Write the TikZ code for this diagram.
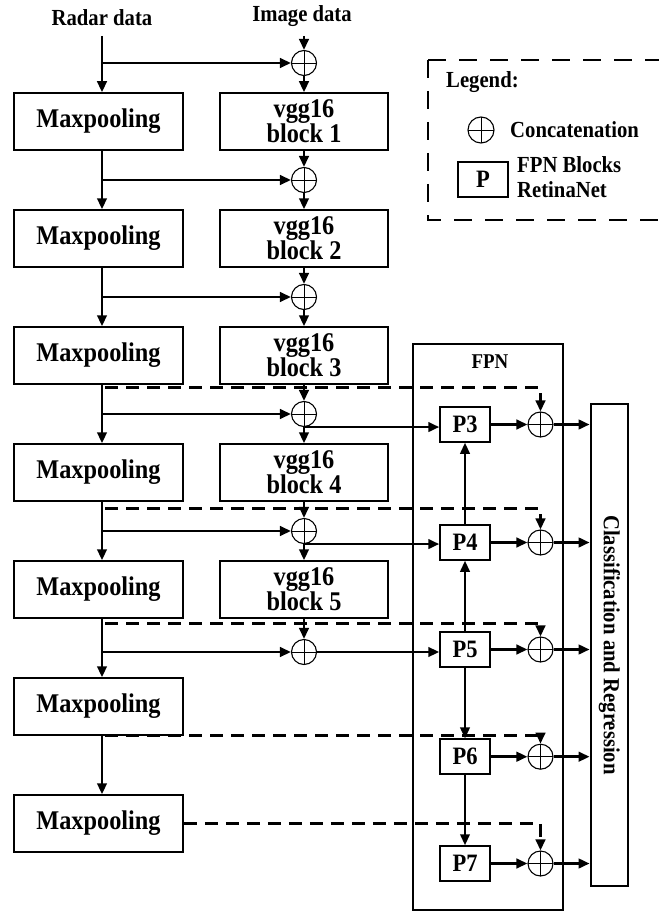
\documentclass[tikz,border=0pt]{standalone}
\usepackage{fontspec}
\setmainfont{Liberation Serif}[FakeStretch=0.9]
\usetikzlibrary{arrows.meta,calc}
\begin{document}
\begin{tikzpicture}[x=1pt,y=-1pt,
  box/.style={draw, line width=1.5pt, minimum width=169pt, minimum height=57pt, inner sep=0pt,
    font=\fontsize{27}{25}\selectfont\bfseries, align=center},
  vbox/.style={box, minimum width=168pt},
  cat/.style={draw, circle, line width=1.1pt, minimum size=25pt, inner sep=0pt,
    path picture={\draw[line width=0.9pt] (path picture bounding box.north) -- (path picture bounding box.south)
      (path picture bounding box.west) -- (path picture bounding box.east);}},
  pbox/.style={draw, line width=1.5pt, minimum width=50pt, minimum height=35pt, inner sep=0pt,
    font=\fontsize{25}{25}\selectfont\bfseries},
  arr/.style={line width=2.6pt, -{Triangle[length=11pt,width=9.5pt]}},
  varr/.style={line width=2.2pt, -{Triangle[length=11pt,width=9.5pt]}},
  dsh/.style={line width=2.6pt, dash pattern=on 13pt off 8pt, -{Triangle[length=11pt,width=9.5pt]}},
  lbl/.style={inner sep=2pt, font=\fontsize{23}{25}\selectfont\bfseries}
]
\useasboundingbox (0,0) rectangle (658,912);
\coordinate (rx) at (102,0);
\coordinate (rtop) at (102,36);
\coordinate (itop) at (304,36);
\node[lbl] (radar) at (102,18) {Radar data};
\node[lbl] (image) at (302,16) {Image data};
% left column
\foreach \k in {1,...,7} {
  \node[box] (mp\k) at (98.5,{121.5+117*(\k-1)}) {Maxpooling};
}
\foreach \k in {1,...,5} {
  \node[vbox] (vg\k) at (304,{121.5+117*(\k-1)}) {vgg16\\block \k};
}
% concatenation circles
\node[cat] (c0) at (304,63) {};
\node[cat] (c1) at (304,180) {};
\node[cat] (c2) at (304,297) {};
\node[cat] (c3) at (304,414) {};
\node[cat] (c4) at (304,531) {};
\node[cat] (c5) at (304,652) {};
% FPN
\node[draw, line width=2pt, minimum width=150pt, minimum height=566pt] (fpn) at (488,627) {};
\node[font=\fontsize{21}{21}\selectfont\bfseries] (fpnl) at (490,362) {FPN};
\node[pbox] (p3) at (465,424.5) {P3};
\node[pbox] (p4) at (465,542.5) {P4};
\node[pbox] (p5) at (465,649.5) {P5};
\node[pbox] (p6) at (465,756.7) {P6};
\node[pbox] (p7) at (465,863.5) {P7};
\node[cat] (r3) at (540.5,424.5) {};
\node[cat] (r4) at (540.5,542.5) {};
\node[cat] (r5) at (540.5,649.5) {};
\node[cat] (r6) at (540.5,756.7) {};
\node[cat] (r7) at (540.5,863.5) {};
\node[draw, line width=2.8pt, minimum width=37pt, minimum height=482pt] (cls) at (609.5,645) {};
\node[lbl, rotate=-90] (clst) at (cls.center) {Classification and Regression};
% radar column
\draw[arr] (rtop) -- (mp1.north -| rx);
\foreach \k in {1,...,6} {
  \pgfmathtruncatemacro{\n}{\k+1}
  \draw[arr] (mp\k.south -| rx) -- (mp\n.north -| rx);
}
\foreach \k in {0,...,5} {
  \draw[arr] (c\k -| rx) -- (c\k.west);
}
% image column
\draw[arr] (itop) -- (c0.north);
\foreach \k in {1,...,5} {
  \pgfmathtruncatemacro{\m}{\k-1}
  \draw[arr] (c\m.south) -- (vg\k.north);
  \draw[arr] (vg\k.south) -- (c\k.north);
}
% to FPN
\draw[arr] (c3.south) -- (c3.south -| p3.west);
\draw[arr] (c4.south) -- (c4.south -| p4.west);
\draw[arr] (c5.east) -- (c5 -| p5.west);
\draw[varr] (p4.north) -- (p3.south);
\draw[varr] (p5.north) -- (p4.south);
\draw[varr] (p5.south) -- (p6.north);
\draw[varr] (p6.south) -- (p7.north);
\foreach \k in {3,...,7} {
  \draw[arr] (p\k.east) -- (r\k.west);
  \draw[arr] (r\k.east) -- (r\k -| cls.west);
}
% dashed skip connections
\draw[dsh] ($(mp3.south -| rx)+(3,3)$) -| (r3.north);
\draw[dsh] ($(mp4.south -| rx)+(3,7)$) -| (r4.north);
\draw[dsh] ($(mp5.south -| rx)+(3,5)$) -| (r5.north);
\draw[dsh] ($(mp6.south -| rx)+(3,0)$) -| (r6.north);
\draw[dsh] (mp7.east) -| (r7.north);
% legend
\draw[line width=2.6pt, dash pattern=on 18pt off 13pt] (428,60) -- (670,60);
\draw[line width=2.6pt, dash pattern=on 18pt off 13pt] (428,60) -- (428,220) -- (670,220);
\node[lbl, anchor=west] (lg) at (444,82) {Legend:};
\node[cat, minimum size=26pt] (lc) at (481,130) {};
\node[lbl, anchor=west] (lct) at (508,130) {Concatenation};
\node[pbox] (lp) at (483,179.5) {P};
\node[lbl, anchor=west, align=left] (lpt) at (515,177) {FPN Blocks\\RetinaNet};
\end{tikzpicture}
\end{document}
